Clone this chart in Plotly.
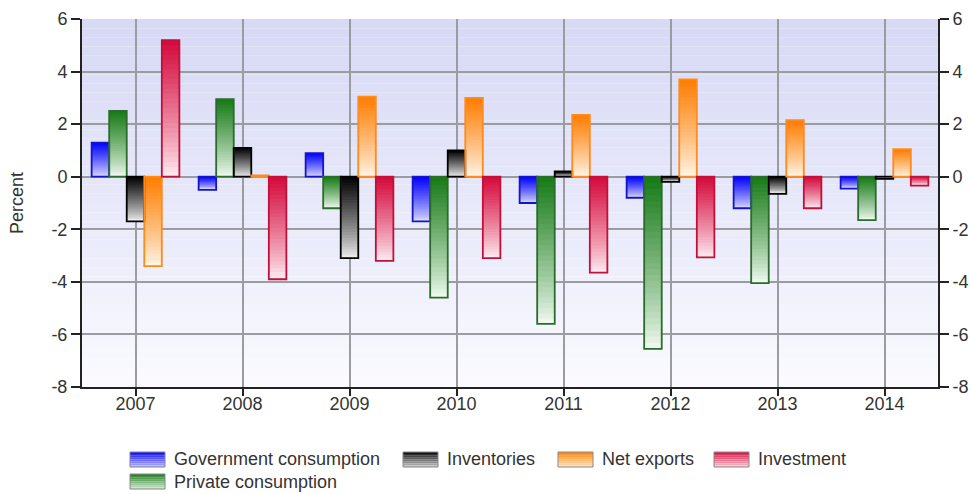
import plotly.graph_objects as go

# ---------------- data ----------------
years = ["2007", "2008", "2009", "2010", "2011", "2012", "2013", "2014"]
gov_consumption = [1.3, -0.5, 0.9, -1.7, -1.0, -0.8, -1.2, -0.45]
private_consumption = [2.5, 2.95, -1.2, -4.6, -5.6, -6.55, -4.05, -1.65]
inventories = [-1.7, 1.1, -3.1, 1.0, 0.2, -0.2, -0.65, -0.08]
net_exports = [-3.4, 0.05, 3.05, 3.0, 2.35, 3.7, 2.15, 1.05]
investment = [5.2, -3.9, -3.2, -3.1, -3.65, -3.07, -1.2, -0.34]

series_names = ["Government consumption", "Private consumption", "Inventories",
                "Net exports", "Investment"]
series_values = [gov_consumption, private_consumption, inventories, net_exports, investment]
y_ticks = [-8, -6, -4, -2, 0, 2, 4, 6]
y_tick_labels = ["-8", "-6", "-4", "-2", "0", "2", "4", "6"]

# ---------------- styles ----------------
top_cols = [(0, 0, 255), (22, 122, 22), (0, 0, 0), (255, 125, 0), (212, 8, 58)]
bot_cols = [(222, 222, 255), (244, 252, 244), (242, 242, 242), (255, 248, 236), (255, 240, 245)]
line_cols = ["#1414c8", "#2b6b2b", "#000000", "#ff8a1e", "#c0103c"]

FONT = "Liberation Sans, Arial, Helvetica, sans-serif"
L, R, T, B = 82, 32, 19, 107
W, H = 970, 494
PW, PH = W - L - R, H - T - B

def mix(c_top, c_bot, t):
    t = max(0.0, min(1.0, t)) ** 0.85
    return "rgb(%d,%d,%d)" % tuple(round(b + (a - b) * t) for a, b in zip(c_top, c_bot))

N = 28
bw = 0.164
fig = go.Figure()

for s, vals in enumerate(series_values):
    off = -2.5 * bw + s * bw
    for k in range(N):
        bases = [v * k / N for v in vals]
        heights = [v - b for v, b in zip(vals, bases)]
        cols = []
        for v in vals:
            frac = (k + 0.5) / N
            t = frac if v >= 0 else 1 - frac
            cols.append(mix(top_cols[s], bot_cols[s], t))
        fig.add_trace(go.Bar(
            x=years, y=heights, base=bases, width=bw, offset=off,
            marker=dict(color=cols, line=dict(width=0)),
            showlegend=False, hoverinfo="skip"))

# outlines on the right-hand axis (drawn on top)
for s, vals in enumerate(series_values):
    off = -2.5 * bw + s * bw
    fig.add_trace(go.Bar(
        x=years, y=vals, width=bw, offset=off, yaxis="y2",
        marker=dict(color="rgba(0,0,0,0)", line=dict(color=line_cols[s], width=1.8)),
        name=series_names[s], showlegend=False, hoverinfo="skip"))

# ---------------- background gradient ----------------
shapes = []
NS = 40
bg_top, bg_bot = (215, 217, 245), (252, 252, 255)
for i in range(NS):
    t = (i + 0.5) / NS
    shapes.append(dict(type="rect", xref="x domain", yref="y domain",
                       x0=0, x1=1, y0=i / NS, y1=(i + 1) / NS,
                       fillcolor=mix(bg_top, bg_bot, t), line=dict(width=0), layer="below"))

# ---------------- custom legend ----------------
annotations = []
legend_items = [(0, 130, 0), (2, 403, 0), (3, 558, 0), (4, 714, 0), (1, 130, 1)]
for s, px, row in legend_items:
    top = 452 + row * 22
    sw, sh = 35, 15
    nst = 8
    for j in range(nst):
        y0p = top + j * sh / nst
        y1p = top + (j + 1) * sh / nst
        t = 1 - (j + 0.5) / nst
        shapes.append(dict(type="rect", xref="paper", yref="paper",
                           x0=(px - L) / PW, x1=(px + sw - L) / PW,
                           y0=(T + PH - y1p) / PH, y1=(T + PH - y0p) / PH,
                           fillcolor=mix(top_cols[s], bot_cols[s], t * 0.85 + 0.1),
                           line=dict(width=0), layer="above"))
    shapes.append(dict(type="rect", xref="paper", yref="paper",
                       x0=(px - L) / PW, x1=(px + sw - L) / PW,
                       y0=(T + PH - top - sh) / PH, y1=(T + PH - top) / PH,
                       fillcolor="rgba(0,0,0,0)", line=dict(width=1, color="#888"), layer="above"))
    annotations.append(dict(xref="paper", yref="paper", x=(px + sw + 7 - L) / PW,
                            y=(T + PH - (top + sh / 2)) / PH, xanchor="left", yanchor="middle",
                            text=series_names[s], showarrow=False,
                            font=dict(family=FONT, size=18, color="#333")))

annotations.append(dict(xref="paper", yref="paper", x=(17 - L) / PW, y=0.5,
                        xanchor="center", yanchor="middle", textangle=-90,
                        text="Percent", showarrow=False,
                        font=dict(family=FONT, size=18, color="#333")))

grid = "rgb(155,155,162)"
axis_common = dict(showline=True, linecolor="#222", linewidth=2, ticks="outside",
                   tickcolor="#222", tickwidth=2, automargin=False,
                   tickfont=dict(family=FONT, size=18, color="#333"))

fig.update_layout(
    width=W, height=H, autosize=False,
    margin=dict(l=L, r=R, t=T, b=B),
    paper_bgcolor="white", plot_bgcolor="white",
    barmode="overlay", showlegend=False,
    shapes=shapes, annotations=annotations,
    xaxis=dict(type="category", categoryorder="array", categoryarray=years,
               range=[-0.5, len(years) - 0.5], showgrid=True, gridcolor=grid, gridwidth=1.5,
               ticklen=7, ticklabelstandoff=-8, **axis_common),
    yaxis=dict(range=[-8, 6], tickvals=y_ticks, ticktext=y_tick_labels,
               showgrid=True, gridcolor=grid, gridwidth=1.5,
               zeroline=False, ticklen=9, **axis_common),
    yaxis2=dict(range=[-8, 6], tickvals=y_ticks, ticktext=y_tick_labels,
                overlaying="y", side="right",
                showgrid=False, zeroline=False, ticklen=9, **axis_common),
)

fig.write_html("out.html")
